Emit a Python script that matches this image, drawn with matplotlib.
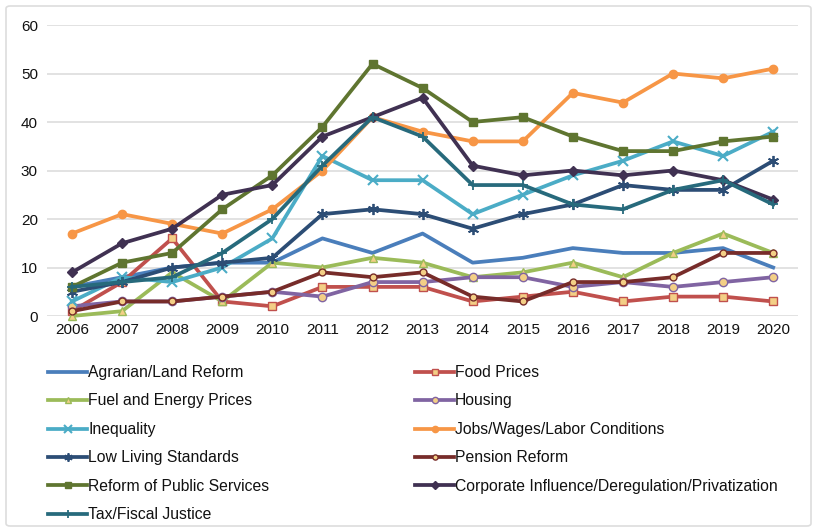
import matplotlib
matplotlib.use("Agg")
import matplotlib.pyplot as plt
from matplotlib.patches import FancyBboxPatch

plt.rcParams['font.family'] = ['Liberation Sans', 'DejaVu Sans']

years = list(range(2006, 2021))

agrarian = [6, 8, 10, 11, 11, 16, 13, 17, 11, 12, 14, 13, 13, 14, 10]
food = [1, 7, 16, 3, 2, 6, 6, 6, 3, 4, 5, 3, 4, 4, 3]
fuel = [0, 1, 9, 3, 11, 10, 12, 11, 8, 9, 11, 8, 13, 17, 13]
housing = [2, 3, 3, 4, 5, 4, 7, 7, 8, 8, 6, 7, 6, 7, 8]
inequality = [3, 8, 7, 10, 16, 33, 28, 28, 21, 25, 29, 32, 36, 33, 38]
jobs = [17, 21, 19, 17, 22, 30, 41, 38, 36, 36, 46, 44, 50, 49, 51]
low_living = [5, 7, 10, 11, 12, 21, 22, 21, 18, 21, 23, 27, 26, 26, 32]
pension = [1, 3, 3, 4, 5, 9, 8, 9, 4, 3, 7, 7, 8, 13, 13]
public_services = [6, 11, 13, 22, 29, 39, 52, 47, 40, 41, 37, 34, 34, 36, 37]
corporate = [9, 15, 18, 25, 27, 37, 41, 45, 31, 29, 30, 29, 30, 28, 24]
tax = [6, 7, 8, 13, 20, 31, 41, 37, 27, 27, 23, 22, 26, 28, 23]

y_ticks = [0, 10, 20, 30, 40, 50, 60]

fill = '#F3CF86'
series = [
    ("Agrarian/Land Reform", agrarian, dict(color='#4A7EBB', marker=None)),
    ("Food Prices", food, dict(color='#C0504D', marker='s', ms=6, mfc=fill, mec='#C0504D')),
    ("Fuel and Energy Prices", fuel, dict(color='#9BBB59', marker='^', ms=6, mfc=fill, mec='#9BBB59')),
    ("Housing", housing, dict(color='#8064A2', marker='o', ms=6, mfc=fill, mec='#8064A2')),
    ("Inequality", inequality, dict(color='#4BACC6', marker='x', ms=7, mew=1.5)),
    ("Jobs/Wages/Labor Conditions", jobs, dict(color='#F79646', marker='o', ms=6)),
    ("Low Living Standards", low_living, dict(color='#2C4D75', marker=(6, 2, 0), ms=8, mew=1.3)),
    ("Pension Reform", pension, dict(color='#772C2A', marker='o', ms=5, mfc=fill, mec='#772C2A')),
    ("Reform of Public Services", public_services, dict(color='#5F7530', marker='s', ms=6)),
    ("Corporate Influence/Deregulation/Privatization", corporate, dict(color='#403152', marker='D', ms=5)),
    ("Tax/Fiscal Justice", tax, dict(color='#276A7C', marker='+', ms=7, mew=1.3)),
]

fig = plt.figure(figsize=(8.17, 5.32), dpi=100)
ax = fig.add_axes([0.0575, 0.406, 0.9195, 0.547])

handles = {}
for name, vals, style in series:
    st = dict(style)
    line, = ax.plot(years, vals, lw=2.7, label=name, clip_on=False, zorder=3, **st)
    handles[name] = line

ax.set_xlim(2005.5, 2020.5)
ax.set_ylim(0, 60)
ax.set_xticks(years)
ax.set_yticks(y_ticks)
ax.tick_params(axis='both', length=0, labelsize=11, colors='#111111')
ax.tick_params(axis='y', pad=6.5)
ax.tick_params(axis='x', pad=5)
for s in ax.spines.values():
    s.set_visible(False)
ax.grid(axis='y', color='#DDDDDD', lw=1.2)
ax.set_axisbelow(True)

order = ["Agrarian/Land Reform", "Fuel and Energy Prices", "Inequality",
         "Low Living Standards", "Reform of Public Services", "Tax/Fiscal Justice",
         "Food Prices", "Housing", "Jobs/Wages/Labor Conditions", "Pension Reform",
         "Corporate Influence/Deregulation/Privatization"]
leg = fig.legend([handles[n] for n in order], order, ncol=2, frameon=False,
                 loc='upper left', bbox_to_anchor=(48 / 817, 1 - 365 / 532),
                 borderpad=0, borderaxespad=0, handlelength=2.5, handletextpad=0.05,
                 columnspacing=9.3, labelspacing=0.86, fontsize=11.3,
                 markerscale=0.75)
for t in leg.get_texts():
    t.set_color('#111111')

frame = FancyBboxPatch((6 / 817, 6 / 532), 1 - 12 / 817, 1 - 12 / 532,
                       boxstyle='round,pad=0,rounding_size=0.005',
                       transform=fig.transFigure, fill=False, ec='#DDDDDD', lw=1.2)
fig.patches.append(frame)

fig.savefig('out.png', dpi=100)
